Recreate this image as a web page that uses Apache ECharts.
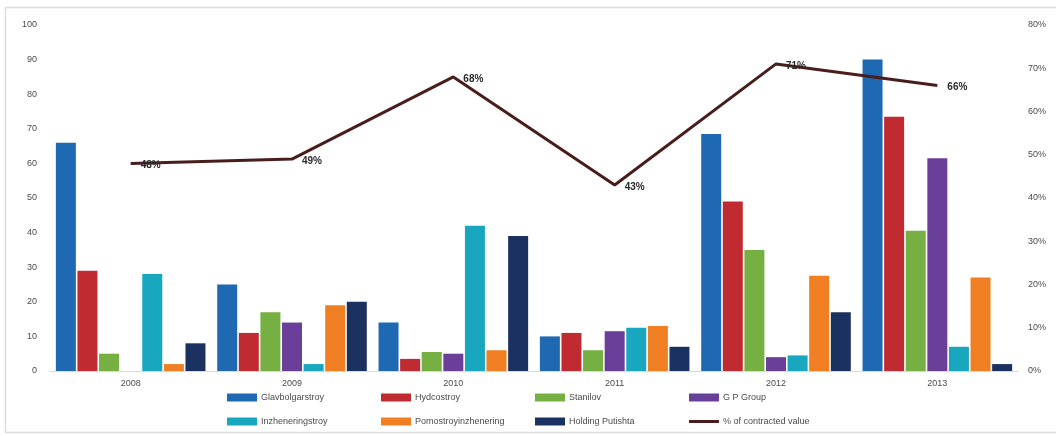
<!DOCTYPE html>
<html>
<head>
<meta charset="utf-8">
<script src="https://cdn.jsdelivr.net/npm/echarts@6/dist/echarts.min.js"></script>
<style>
  html, body { margin: 0; padding: 0; background: #fff; }
  #chart { width: 1056px; height: 436px; }
</style>
</head>
<body>
<div id="chart"></div>
<script>
// Contract volumes by company per year, plus share of contracted value
const years = ['2008', '2009', '2010', '2011', '2012', '2013'];

const glavbolgarstroy    = [66, 25, 14, 10, 68.5, 90];
const hydrostroy         = [29, 11, 3.5, 11, 49, 73.5];
const stanilov           = [5, 17, 5.5, 6, 35, 40.5];
const gpGroup            = [0, 14, 5, 11.5, 4, 61.5];
const inzhenerengstroy   = [28, 2, 42, 12.5, 4.5, 7];
const pomostroy          = [2, 19, 6, 13, 27.5, 27];
const holdingPutishta    = [8, 20, 39, 7, 17, 2];
const contractedShare    = [48, 49, 68, 43, 71, 66];

const leftTicks = { min: 0, max: 100, interval: 10 };
const rightTicks = { min: 0, max: 80, interval: 10 };

const barSeries = [
  { name: 'Glavbolgarstroy', data: glavbolgarstroy, color: '#1f69b3' },
  { name: 'Hydcostroy', data: hydrostroy, color: '#c02a31' },
  { name: 'Stanilov', data: stanilov, color: '#76b043' },
  { name: 'G P Group', data: gpGroup, color: '#6a3f99' },
  { name: 'Inzheneringstroy', data: inzhenerengstroy, color: '#19a6bf' },
  { name: 'Pomostroyinzhenering', data: pomostroy, color: '#f07e22' },
  { name: 'Holding Putishta', data: holdingPutishta, color: '#1b3260' }
];
const lineName = '% of contracted value';
const lineColor = '#4a1d1d';

const chart = echarts.init(document.getElementById('chart'));

const textFont = { fontFamily: 'Liberation Sans, Arial, sans-serif', fontSize: 9, color: '#4a4a4a' };

// Legend laid out as a 4 x 2 grid
const legendCols = [227, 381, 535, 689];
const legendRows = [393, 417];
const legendOrder = barSeries.map(s => s.name).concat([lineName]);
const legends = legendOrder.map((name, i) => ({
  left: legendCols[i % 4],
  top: legendRows[Math.floor(i / 4)],
  data: [name],
  itemWidth: 30,
  itemHeight: name === lineName ? 3 : 8,
  itemGap: 0,
  icon: 'rect',
  padding: 0,
  textStyle: Object.assign({}, textFont, { padding: [0, 0, 0, -1] }),
  selectedMode: false
}));

chart.setOption({
  animation: false,
  backgroundColor: '#ffffff',
  graphic: [{
    type: 'rect',
    shape: { x: 5.5, y: 7.5, width: 1100, height: 425 },
    style: { fill: 'none', stroke: '#dcdcdc', lineWidth: 1.5 },
    silent: true
  }],
  grid: { left: 50, right: 38, top: 25, bottom: 65 },
  legend: legends,
  xAxis: {
    type: 'category',
    data: years,
    axisLine: { show: true, lineStyle: { color: '#d9d9d9', width: 1 } },
    axisTick: { show: false },
    axisLabel: Object.assign({}, textFont, { margin: 8 })
  },
  yAxis: [
    {
      type: 'value',
      min: leftTicks.min, max: leftTicks.max, interval: leftTicks.interval,
      axisLine: { show: false },
      axisTick: { show: false },
      splitLine: { show: false },
      axisLabel: Object.assign({}, textFont, { margin: 13 })
    },
    {
      type: 'value',
      min: rightTicks.min, max: rightTicks.max, interval: rightTicks.interval,
      position: 'right',
      axisLine: { show: false },
      axisTick: { show: false },
      splitLine: { show: false },
      axisLabel: Object.assign({}, textFont, { margin: 10, formatter: '{value}%' })
    }
  ],
  series: barSeries.map(s => ({
    name: s.name,
    type: 'bar',
    data: s.data,
    barWidth: 20,
    barGap: '8%',
    itemStyle: { color: s.color }
  })).concat([{
    name: lineName,
    type: 'line',
    yAxisIndex: 1,
    data: contractedShare,
    symbol: 'circle',
    symbolSize: 0,
    showSymbol: true,
    lineStyle: { color: lineColor, width: 3 },
    itemStyle: { color: lineColor },
    label: {
      show: true,
      position: 'right',
      distance: 10,
      offset: [0, 2],
      formatter: '{c}%',
      fontFamily: 'Liberation Sans, Arial, sans-serif',
      fontSize: 10,
      fontWeight: 'bold',
      color: '#2a2a2a'
    },
    z: 5
  }])
});
</script>
</body>
</html>
